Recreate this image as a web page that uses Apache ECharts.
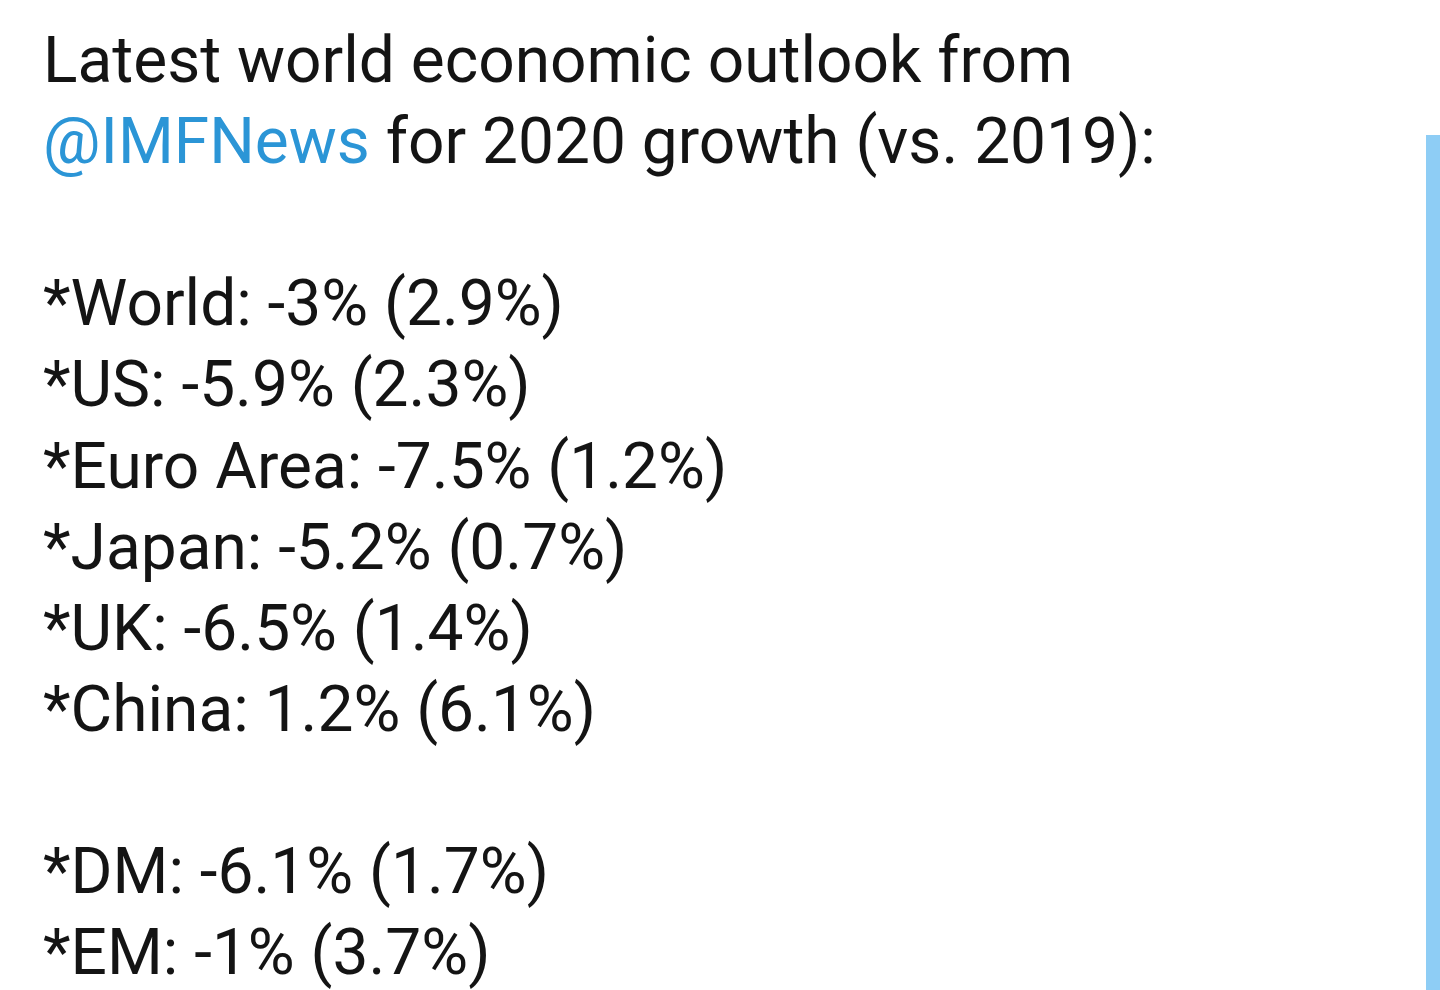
<!DOCTYPE html>
<html>
<head>
<meta charset="utf-8">
<script src="https://cdn.jsdelivr.net/npm/echarts@6/dist/echarts.min.js"></script>
<style>
    *{ padding: 0; margin: 0; }
    body{ background: #fff; overflow: hidden; }
    #chart{ width: 1440px; height: 990px; }
</style>
</head>
<body>
<div id="chart"></div>
<script type="text/javascript">
    // IMF outlook, growth 2020 (vs 2019)
    let headLine1 = 'Latest world economic outlook from';
    let handle = '@IMFNews';
    let headLine2 = ' for 2020 growth (vs. 2019):';
    let regions = ['World', 'US', 'Euro Area', 'Japan', 'UK', 'China'];
    let growth2020 = ['-3', '-5.9', '-7.5', '-5.2', '-6.5', '1.2'];
    let growth2019 = ['2.9', '2.3', '1.2', '0.7', '1.4', '6.1'];
    let groups = ['DM', 'EM'];
    let groupGrowth2020 = ['-6.1', '-1'];
    let groupGrowth2019 = ['1.7', '3.7'];

    let myChart = echarts.init(document.getElementById('chart'));
    let fontSize = 64;
    let left = 43, firstTop = 34, lineH = 81.1;
    let textColor = '#141414';

    function row(label, v20, v19) {
        return '*' + label + ': ' + v20 + '% (' + v19 + '%)';
    }

    // lines of the tweet, null = empty line
    let lines = [null, null, null];
    regions.forEach(function (r, i) { lines.push(row(r, growth2020[i], growth2019[i])); });
    lines.push(null);
    groups.forEach(function (g, i) { lines.push(row(g, groupGrowth2020[i], groupGrowth2019[i])); });

    let elements = [
        {
            type: 'text', x: left, y: firstTop,
            style: { text: headLine1, fill: textColor, font: fontSize + 'px Roboto', verticalAlign: 'top' }
        },
        {
            type: 'text', x: left, y: firstTop + lineH,
            style: {
                text: '{h|' + handle + '}{t|' + headLine2 + '}',
                verticalAlign: 'top',
                rich: {
                    h: { fill: '#2B95D6', fontSize: fontSize, fontFamily: 'Roboto' },
                    t: { fill: textColor, fontSize: fontSize, fontFamily: 'Roboto' }
                }
            }
        },
        {
            // blue scroll strip on the right edge
            type: 'rect',
            shape: { x: 1426, y: 135, width: 14, height: 855 },
            style: { fill: '#8ECDF5' }
        }
    ];
    lines.forEach(function (t, i) {
        if (t === null) return;
        elements.push({
            type: 'text',
            x: left, y: firstTop + lineH * i,
            style: { text: t, fill: textColor, font: fontSize + 'px Roboto', verticalAlign: 'top' }
        });
    });

    myChart.setOption({
        backgroundColor: '#ffffff',
        graphic: { elements: elements }
    });
</script>
</body>
</html>
